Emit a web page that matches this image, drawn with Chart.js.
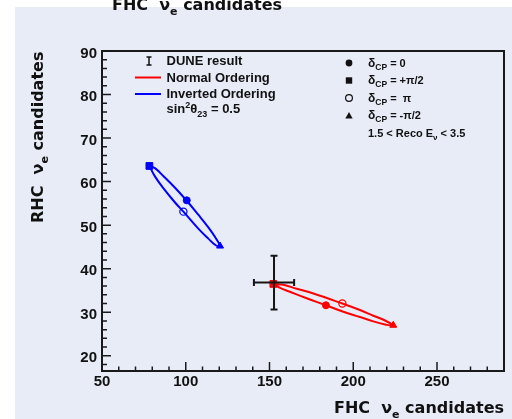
<!DOCTYPE html>
<html>
<head>
<meta charset="utf-8">
<script src="https://cdn.jsdelivr.net/npm/chart.js@4.4.1/dist/chart.umd.min.js"></script>
<style>
  html, body { margin: 0; padding: 0; background: #fff; }
  #wrap { width: 512px; height: 419px; }
</style>
</head>
<body>
<div id="wrap"><canvas id="chart" width="512" height="419"></canvas></div>
<script>
// axis ranges and tick labels
const xRange = [50, 290];
const yRange = [16.5, 90];
const xTicks = [50, 100, 150, 200, 250];
const yTicks = [20, 30, 40, 50, 60, 70, 80, 90];

// ellipses traced round delta_CP
const normalX = [152.3, 158.3, 166.2, 176.2, 193.5, 204.0, 212.0, 219.0, 223.9, 219.0, 212.0, 204.0, 194.1, 183.7, 172.2, 162.2, 156.3, 152.3];
const normalY = [36.5, 36.3, 35.4, 34.3, 32.0, 30.5, 29.2, 28.1, 26.9, 27.2, 27.9, 28.9, 30.1, 31.6, 33.2, 34.7, 35.6, 36.5];
const invertedX = [78.3, 81.6, 86.6, 93.6, 100.6, 107.5, 113.5, 117.5, 120.5, 117.5, 113.5, 107.5, 98.6, 93.6, 86.6, 81.6, 78.3];
const invertedY = [63.6, 63.1, 61.3, 58.6, 55.6, 52.4, 49.5, 47.3, 45.1, 45.5, 46.9, 49.2, 53.1, 55.2, 58.5, 61.2, 63.6];

// markers: [normal, inverted]
const dcp0X = [183.7, 100.6], dcp0Y = [31.6, 55.7];
const dcpHalfPiX = [152.3, 78.3], dcpHalfPiY = [36.5, 63.6];
const dcpPiX = [193.5, 98.6], dcpPiY = [32.0, 53.1];
const dcpMinusHalfPiX = [223.9, 120.5], dcpMinusHalfPiY = [27.0, 45.2];

// DUNE result with errors
const duneX = 152.7, duneY = 36.8, duneXErr = 12.0, duneYErr = 6.15;

const RED = "#ff0000", BLUE = "#0000ff", BG = "#e8ecf7";
const markerColors = [RED, BLUE];
const ARIAL = '"Liberation Sans", Arial, sans-serif';
const DEJAVU = '"DejaVu Sans", sans-serif';

const zip = (xs, ys) => xs.map((x, i) => ({ x, y: ys[i] }));

function drawRich(ctx, parts, x, y) {
  let cx = x;
  for (const p of parts) {
    ctx.font = `bold ${p.size}px ${p.family || ARIAL}`;
    ctx.fillText(p.t, cx, y + (p.dy || 0));
    cx += ctx.measureText(p.t).width;
  }
  return cx - x;
}
function richWidth(ctx, parts) {
  let w = 0;
  for (const p of parts) {
    ctx.font = `bold ${p.size}px ${p.family || ARIAL}`;
    w += ctx.measureText(p.t).width;
  }
  return w;
}

const titleParts = [
  { t: "FHC ", size: 16, family: DEJAVU },
  { t: " ν", size: 16, family: DEJAVU },
  { t: "e", size: 11, family: DEJAVU, dy: 5 },
  { t: " candidates", size: 16, family: DEJAVU },
];
const yTitleParts = [
  { t: "RHC ", size: 16, family: DEJAVU },
  { t: " ν", size: 16, family: DEJAVU },
  { t: "e", size: 11, family: DEJAVU, dy: 5 },
  { t: " candidates", size: 16, family: DEJAVU },
];

const rootStyle = {
  id: "rootStyle",
  beforeDraw(chart) {
    const ctx = chart.ctx;
    ctx.save();
    ctx.fillStyle = "#fff";
    ctx.fillRect(0, 0, chart.width, chart.height);
    ctx.fillStyle = BG;
    ctx.fillRect(15, 7, chart.width - 15, chart.height - 7);
    ctx.restore();
  },
  afterDatasetsDraw(chart) {
    const ctx = chart.ctx;
    const xs = chart.scales.x, ys = chart.scales.y;
    const px = xs.getPixelForValue(duneX), py = ys.getPixelForValue(duneY);
    const x1 = xs.getPixelForValue(duneX - duneXErr), x2 = xs.getPixelForValue(duneX + duneXErr);
    const y1 = ys.getPixelForValue(duneY + duneYErr), y2 = ys.getPixelForValue(duneY - duneYErr);
    ctx.save();
    ctx.strokeStyle = "#151515";
    ctx.lineWidth = 2;
    ctx.beginPath();
    ctx.moveTo(x1, py); ctx.lineTo(x2, py);
    ctx.moveTo(px, y1); ctx.lineTo(px, y2);
    ctx.moveTo(x1, py - 3.5); ctx.lineTo(x1, py + 3.5);
    ctx.moveTo(x2, py - 3.5); ctx.lineTo(x2, py + 3.5);
    ctx.moveTo(px - 3.5, y1); ctx.lineTo(px + 3.5, y1);
    ctx.moveTo(px - 3.5, y2); ctx.lineTo(px + 3.5, y2);
    ctx.stroke();
    ctx.restore();
  },
  afterDraw(chart) {
    const ctx = chart.ctx;
    const a = chart.chartArea;
    const xs = chart.scales.x, ys = chart.scales.y;
    ctx.save();
    // frame
    ctx.strokeStyle = "#1a1a1a";
    ctx.lineWidth = 2;
    ctx.strokeRect(a.left, a.top, a.right - a.left, a.bottom - a.top);
    // ticks (inside)
    ctx.lineWidth = 1.5;
    ctx.beginPath();
    for (let v = 18; v <= 90; v += 2) {
      const p = ys.getPixelForValue(v);
      const len = v % 10 === 0 ? 9 : 5;
      ctx.moveTo(a.left, p); ctx.lineTo(a.left + len, p);
    }
    for (let v = 50; v < 290; v += 10) {
      const p = xs.getPixelForValue(v);
      const len = v % 50 === 0 ? 9 : 4.5;
      ctx.moveTo(p, a.bottom); ctx.lineTo(p, a.bottom - len);
    }
    ctx.stroke();

    ctx.fillStyle = "#111";
    ctx.textBaseline = "alphabetic";
    // titles
    drawRich(ctx, titleParts, 112, 9.5);
    const w = richWidth(ctx, titleParts);
    drawRich(ctx, titleParts, 504 - w, 413);
    ctx.save();
    ctx.translate(43, 223);
    ctx.rotate(-Math.PI / 2);
    drawRich(ctx, yTitleParts, 0, 0);
    ctx.restore();

    // left legend
    ctx.strokeStyle = "#111";
    ctx.lineWidth = 1.5;
    ctx.beginPath();
    ctx.moveTo(149, 57); ctx.lineTo(149, 65);
    ctx.moveTo(146.5, 57); ctx.lineTo(151.5, 57);
    ctx.moveTo(146.5, 65); ctx.lineTo(151.5, 65);
    ctx.stroke();
    ctx.lineWidth = 2;
    ctx.strokeStyle = RED;
    ctx.beginPath(); ctx.moveTo(135, 77.5); ctx.lineTo(161, 77.5); ctx.stroke();
    ctx.strokeStyle = BLUE;
    ctx.beginPath(); ctx.moveTo(135, 94); ctx.lineTo(161, 94); ctx.stroke();
    drawRich(ctx, [{ t: "DUNE result", size: 13 }], 166.5, 65);
    drawRich(ctx, [{ t: "Normal Ordering", size: 13 }], 166.5, 81.5);
    drawRich(ctx, [{ t: "Inverted Ordering", size: 13 }], 166.5, 97.5);
    drawRich(ctx, [
      { t: "sin", size: 13 }, { t: "2", size: 9, dy: -5 }, { t: "θ", size: 13 },
      { t: "23", size: 9, dy: 4 }, { t: " = 0.5", size: 13 },
    ], 166.5, 113);

    // right legend
    const mx = 349;
    ctx.fillStyle = "#111";
    ctx.strokeStyle = "#111";
    ctx.beginPath(); ctx.arc(mx, 63, 3.4, 0, Math.PI * 2); ctx.fill();
    ctx.fillRect(mx - 3.2, 77.3, 6.4, 6.4);
    ctx.lineWidth = 1.2;
    ctx.beginPath(); ctx.arc(mx, 98, 3.4, 0, Math.PI * 2); ctx.stroke();
    ctx.beginPath(); ctx.moveTo(mx, 112); ctx.lineTo(mx + 3.7, 118.5); ctx.lineTo(mx - 3.7, 118.5); ctx.closePath(); ctx.fill();
    const dRows = [" = 0", " = +π/2", " =  π", " = -π/2"];
    dRows.forEach((t, i) => {
      drawRich(ctx, [{ t: "δ", size: 12 }, { t: "CP", size: 8.5, dy: 3 }, { t: t, size: 11 }], 368, 66.5 + i * 17.5);
    });
    drawRich(ctx, [{ t: "1.5 < Reco E", size: 11 }, { t: "ν", size: 8, dy: 3 }, { t: " < 3.5", size: 11 }], 368, 136.5);
    ctx.restore();
  },
};

const curve = (xs, ys, color) => ({
  data: zip(xs, ys),
  showLine: true,
  borderColor: color,
  borderWidth: 2,
  pointRadius: 0,
  tension: 0.4,
  fill: false,
});
const markers = (xs, ys, style, radius, open) => ({
  data: zip(xs, ys),
  showLine: false,
  pointStyle: style,
  pointRadius: radius,
  pointBackgroundColor: open ? "transparent" : markerColors,
  pointBorderColor: markerColors,
  pointBorderWidth: open ? 1.2 : 1,
});

new Chart(document.getElementById("chart"), {
  type: "scatter",
  data: {
    datasets: [
      curve(normalX, normalY, RED),
      curve(invertedX, invertedY, BLUE),
      markers(dcp0X, dcp0Y, "circle", 3.5, false),
      markers(dcpHalfPiX, dcpHalfPiY, "rect", 4.8, false),
      markers(dcpPiX, dcpPiY, "circle", 3.6, true),
      markers(dcpMinusHalfPiX, dcpMinusHalfPiY, "triangle", 4, false),
    ],
  },
  options: {
    responsive: false,
    animation: false,
    devicePixelRatio: 1,
    layout: { padding: { top: 51, right: 8, left: 0, bottom: 0 } },
    plugins: { legend: { display: false }, tooltip: { enabled: false } },
    scales: {
      x: {
        type: "linear",
        min: xRange[0],
        max: xRange[1],
        grid: { display: false, drawTicks: false },
        border: { display: false },
        afterBuildTicks: (s) => { s.ticks = xTicks.map((v) => ({ value: v })); },
        afterFit: (s) => { s.height = 48; },
        ticks: { color: "#111", padding: 2, font: { family: ARIAL, size: 15, weight: "bold" } },
      },
      y: {
        type: "linear",
        min: yRange[0],
        max: yRange[1],
        grid: { display: false, drawTicks: false },
        border: { display: false },
        afterBuildTicks: (s) => { s.ticks = yTicks.map((v) => ({ value: v })); },
        afterFit: (s) => { s.width = 102; },
        ticks: { color: "#111", padding: 5, labelOffset: 2.5, font: { family: ARIAL, size: 15, weight: "bold" } },
      },
    },
  },
  plugins: [rootStyle],
});
</script>
</body>
</html>
